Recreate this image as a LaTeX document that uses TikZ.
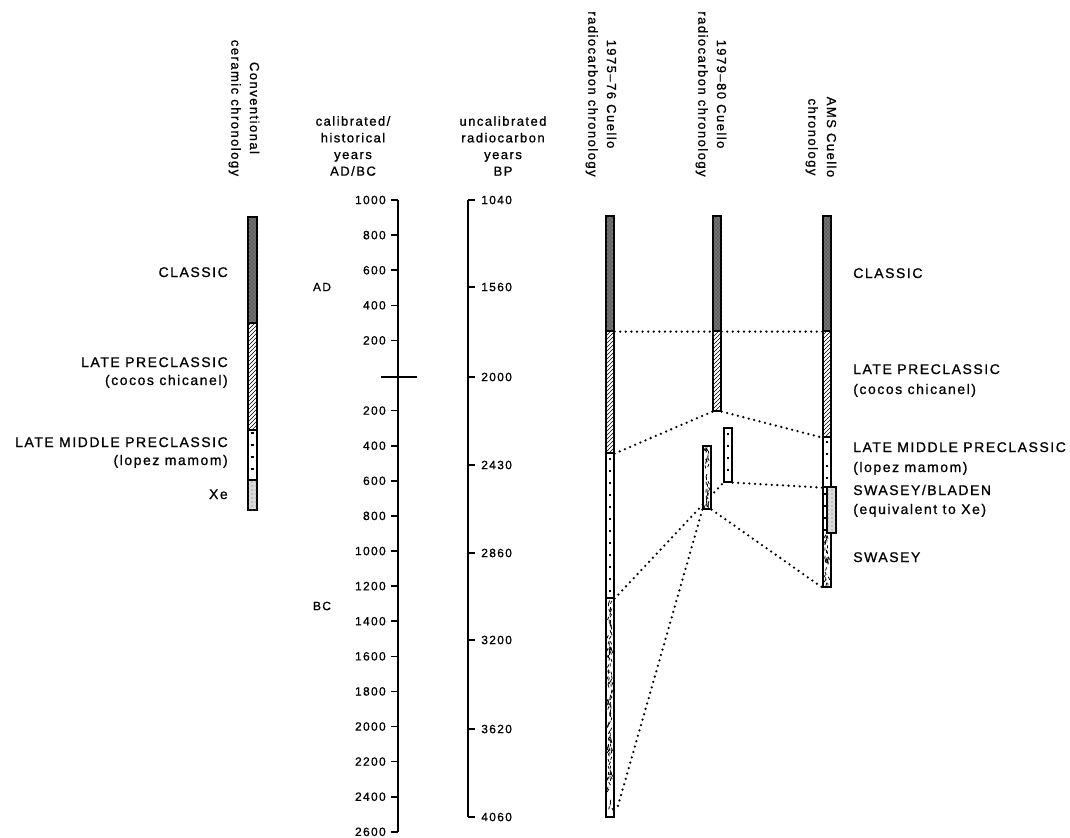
\documentclass[tikz,border=0pt]{standalone}
\usepackage{fontspec}
\setmainfont{Liberation Sans}[LetterSpace=11,FakeBold=0.9]
\usetikzlibrary{patterns,fit,calc}
\pgfdeclarelayer{bg}
\pgfsetlayers{bg,main}

% small square dots down the middle of a bar: x, top, bottom
\newcommand\dotcol[3]{%
  \pgfmathtruncatemacro\dn{((#3)-(#2))/12}%
  \foreach \k in {0,...,\dn}{%
    \pgfmathsetmacro\yy{#2+12*\k}%
    \fill (#1-1.4,\yy-1.4) rectangle (#1+1.4,\yy+1.4);
  }}
% short random strokes: x1, x2, y1, y2, count
\newcommand\crackfill[5]{%
  \foreach \k in {1,...,#5}{%
    \pgfmathsetmacro\cx{#1+2+rnd*(#2-#1-4)}%
    \pgfmathsetmacro\cy{#3+1.5+rnd*(#4-#3-5)}%
    \pgfmathsetmacro\dx{2*rnd-1}%
    \draw[line width=0.6pt] (\cx,\cy) -- ++(1.8*\dx,3);
  }}

\begin{document}
\begin{tikzpicture}[
    x=0.75pt, y=-0.75pt,
    seg/.style={draw,line width=0.9pt,inner sep=0pt},
    classic/.style={seg,fill=black!55,postaction={pattern=crosshatch dots,pattern color=black!85}},
    hatch/.style={seg,fill=white,postaction={pattern=north east lines}},
    plain/.style={seg,fill=white},
    stipple/.style={seg,fill=black!14,postaction={pattern=dots,pattern color=black!60}},
    link/.style={line width=1.9pt,line cap=round,dash pattern=on 0pt off 4.2pt},
    axis/.style={line width=1.2pt},
    num/.style={font=\fontsize{9}{11}\selectfont,inner sep=0pt},
    head/.style={font=\fontsize{9.8}{12.5}\selectfont,align=center,inner sep=0pt},
    vhead/.style={head,rotate=-90,font=\fontsize{9.8}{14}\selectfont},
    lab/.style={font=\fontsize{10.5}{15}\selectfont,inner sep=0pt}
]
\useasboundingbox (0,0) rectangle (1070,838);
\pgfmathsetseed{11}

% column headings
\node[vhead] (h-conv) at (244,108) {Conventional\\ceramic chronology};
\node[head] (h-cal) at (353,146) {calibrated/\\historical\\years\\AD/BC};
\node[head] (h-bp) at (503,146) {uncalibrated\\radiocarbon\\years\\BP};
\node[vhead] (h-c75) at (601,94) {1975--76 Cuello\\radiocarbon chronology};
\node[vhead] (h-c79) at (711,94) {1979--80 Cuello\\radiocarbon chronology};
\node[vhead] (h-ams) at (821,137) {AMS Cuello\\chronology};

% calibrated scale
\draw[axis] (398,200) -- (398,832);
\draw[axis] (381,377) -- (417,377);
\foreach \k/\v in {0/1000,1/800,2/600,3/400,4/200,6/200,7/400,8/600,9/800,10/1000,
                   11/1200,12/1400,13/1600,14/1800,15/2000,16/2200,17/2400,18/2600}{
  \pgfmathsetmacro\ty{200+35.1*\k}
  \draw[axis] (391,\ty) -- (398,\ty);
  \node[num,anchor=east] (cal\k) at (386,\ty) {\v};
}
\node[num] (ad) at (322,287) {AD};
\node[num] (bc) at (322,606) {BC};

% radiocarbon scale
\draw[axis] (468,200) -- (468,817);
\foreach \ty/\v in {200/1040,287/1560,377/2000,465/2430,553/2860,640/3200,729/3620,817/4060}{
  \draw[axis] (468,\ty) -- (475,\ty);
  \node[num,anchor=west] (bp\v) at (481,\ty) {\v};
}

% conventional ceramic chronology
\node[classic,fit={(248,217)(257,323)}] (conv-cl) {};
\node[hatch,fit={(248,323)(257,430)}] (conv-lp) {};
\node[plain,fit={(248,430)(257,480)}] (conv-lmp) {};
\node[stipple,fit={(248,480)(257,510)}] (conv-xe) {};
\dotcol{252.5}{433}{478}

% 1975-76
\node[classic,fit={(606,216)(614,331)}] (c75-cl) {};
\node[hatch,fit={(606,331)(614,453)}] (c75-lp) {};
\node[plain,fit={(606,453)(614,598)}] (c75-lmp) {};
\node[plain,fit={(606,598)(614,817)}] (c75-sw) {};
\dotcol{610}{459}{596}
\crackfill{606}{614}{598}{817}{120}

% 1979-80
\node[classic,fit={(713,216)(721,331)}] (c79-cl) {};
\node[hatch,fit={(713,331)(721,411)}] (c79-lp) {};
\node[plain,fit={(724,428)(732,482)}] (c79-lmp) {};
\node[plain,fit={(703,446)(711,509)}] (c79-sw) {};
\dotcol{728}{434}{480}
\crackfill{703}{711}{446}{509}{34}

% AMS
\node[classic,fit={(823,216)(831,331)}] (ams-cl) {};
\node[hatch,fit={(823,331)(831,437)}] (ams-lp) {};
\node[plain,fit={(823,437)(831,487)}] (ams-lmp) {};
\node[plain,fit={(823,487)(831,587)}] (ams-sw) {};
\dotcol{827}{442}{485}
\dotcol{825.5}{494}{530}
\crackfill{823}{831}{533}{587}{30}
\node[stipple,fit={(827,487)(836,533)}] (ams-sb) {};

% correlations
\begin{pgfonlayer}{bg}
\draw[link] (c75-cl.south east) -- (c79-cl.south west);
\draw[link] (c79-cl.south east) -- (ams-cl.south west);
\draw[link] (c75-lp.south east) -- (c79-lp.south west);
\draw[link] (c79-lp.south east) -- (ams-lp.south west);
\draw[link] (c75-lmp.south east) -- (c79-lmp.south west);
\draw[link] (c79-lmp.south east) -- (ams-lmp.south west);
\draw[link] (c79-sw.south east) -- (ams-sw.south west);
\draw[link,shorten >=7pt] (c79-sw.south west) -- (c75-sw.south east);
\end{pgfonlayer}

% phase names, left
\node[lab,anchor=base east] (l-cl) at (228,277) {CLASSIC};
\node[lab,anchor=base east] (l-lp) at (228,367) {LATE PRECLASSIC};
\node[lab,anchor=base east] (l-lp2) at (228,385) {(cocos chicanel)};
\node[lab,anchor=base east] (l-lmp) at (228,447) {LATE MIDDLE PRECLASSIC};
\node[lab,anchor=base east] (l-lmp2) at (228,465) {(lopez mamom)};
\node[lab,anchor=base east] (l-xe) at (228,499) {Xe};

% phase names, right
\node[lab,anchor=base west] (r-cl) at (853,278) {CLASSIC};
\node[lab,anchor=base west] (r-lp) at (853,374) {LATE PRECLASSIC};
\node[lab,anchor=base west] (r-lp2) at (853,394) {(cocos chicanel)};
\node[lab,anchor=base west] (r-lmp) at (853,452) {LATE MIDDLE PRECLASSIC};
\node[lab,anchor=base west] (r-lmp2) at (853,472) {(lopez mamom)};
\node[lab,anchor=base west] (r-sb) at (853,495) {SWASEY/BLADEN};
\node[lab,anchor=base west] (r-sb2) at (853,514) {(equivalent to Xe)};
\node[lab,anchor=base west] (r-sw) at (853,562) {SWASEY};
\end{tikzpicture}
\end{document}
